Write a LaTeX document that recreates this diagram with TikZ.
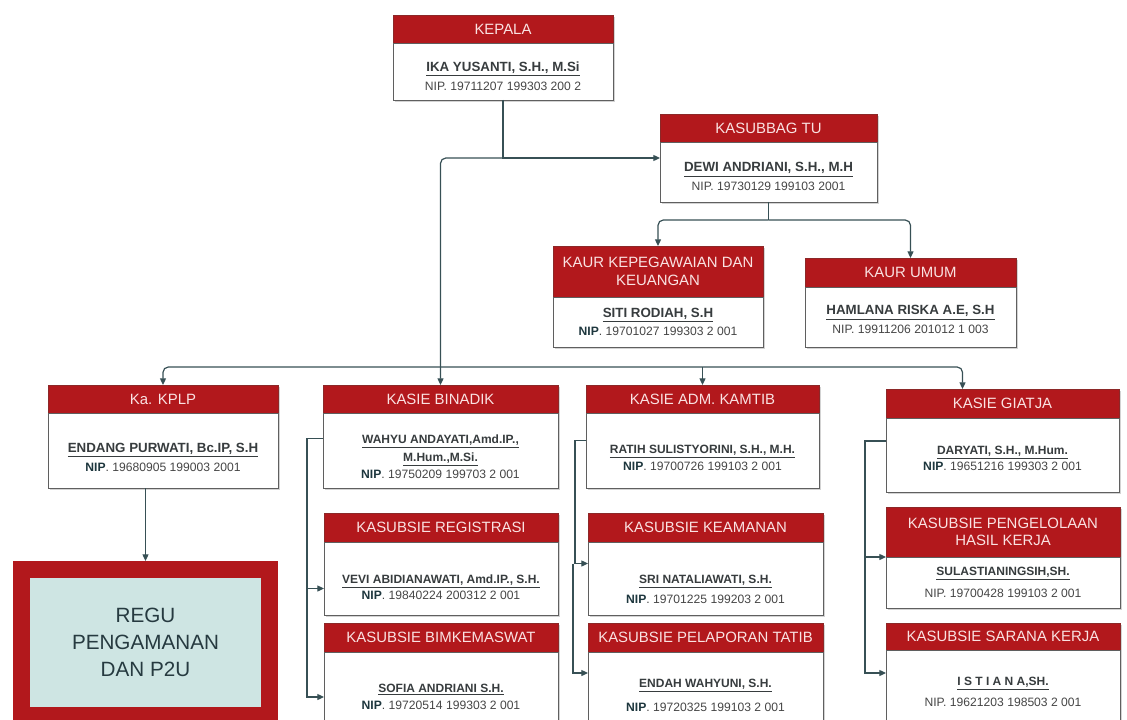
\documentclass[tikz,border=0pt]{standalone}
\usepackage{fontspec}
\setmainfont{Liberation Sans}
\usetikzlibrary{positioning,calc,shadows,arrows.meta}
\definecolor{hdrred}{RGB}{178,24,28}
\definecolor{hdredge}{RGB}{140,40,40}
\definecolor{hdrtxt}{RGB}{250,226,226}
\definecolor{bdyedge}{RGB}{95,95,95}
\definecolor{namecol}{RGB}{55,60,62}
\definecolor{nipcol}{RGB}{70,70,70}
\definecolor{nipbold}{RGB}{30,55,62}
\definecolor{linecol}{RGB}{55,80,85}
\definecolor{regufill}{RGB}{206,229,227}
\definecolor{regutxt}{RGB}{38,58,64}
\newcommand{\namabesar}[1]{{\fontsize{10}{14}\selectfont\color{namecol}\underline{\textbf{#1}}}}
\newcommand{\nama}[1]{{\fontsize{9}{14}\selectfont\color{namecol}\underline{\textbf{#1}}}}
\newcommand{\nip}{{\color{nipbold}\textbf{NIP}}.}
\newcommand{\turun}[1]{\rule{0pt}{\dimexpr 7pt+#1\relax}} % push text down
\tikzset{wd/.style={minimum width=#1*0.75pt},
	ht/.style={minimum height=#1*0.75pt},
	hdr/.style={fill=hdrred, draw=hdredge, line width=0.4pt, text=hdrtxt, font=\fontsize{11.2}{13}\selectfont,
		align=center, inner sep=0pt, outer sep=0pt, anchor=north west,
		drop shadow={shadow xshift=1.5pt, shadow yshift=-1.5pt, opacity=0.35}},
	bdy/.style={fill=white, draw=bdyedge, line width=0.5pt, text=nipcol, font=\fontsize{9.1}{14}\selectfont,
		align=center, inner sep=0pt, outer sep=0pt,
		drop shadow={shadow xshift=1.5pt, shadow yshift=-1.5pt, opacity=0.35}},
	conn/.style={draw=linecol, line width=0.9pt, -{Triangle[length=5pt,width=4.5pt]}}}
\begin{document}
\begin{tikzpicture}[x=0.75pt,y=-0.75pt]
	\useasboundingbox (0,0) rectangle (1127,720);
	% top
	\node[hdr, wd=220, ht=28] (kepalah) at (393,15) {KEPALA};
	\node[bdy, wd=220, ht=57, below=0pt of kepalah] (kepalab) {\turun{7pt}\namabesar{IKA YUSANTI, S.H., M.Si}\\NIP. 19711207 199303 200 2};
	\node[hdr, wd=217, ht=28] (tuh) at (660,114) {KASUBBAG TU};
	\node[bdy, wd=217, ht=60, below=0pt of tuh] (tub) {\turun{7pt}\namabesar{DEWI ANDRIANI, S.H., M.H}\\NIP. 19730129 199103 2001};
	\node[hdr, wd=210, ht=51] (kepegh) at (553,246) {KAUR KEPEGAWAIAN DAN\\KEUANGAN};
	\node[bdy, wd=210, ht=50, below=0pt of kepegh] (kepegb) {\namabesar{SITI RODIAH, S.H}\\\nip{} 19701027 199303 2 001};
	\node[hdr, wd=211, ht=29] (umumh) at (805,258) {KAUR UMUM};
	\node[bdy, wd=211, ht=60, below=0pt of umumh] (umumb) {\turun{4pt}\namabesar{HAMLANA RISKA A.E, S.H}\\NIP. 19911206 201012 1 003};
	% kasie row
	\node[hdr, wd=230, ht=28] (kplph) at (48,385) {Ka. KPLP};
	\node[bdy, wd=230, ht=75, below=0pt of kplph] (kplpb) {\turun{10pt}\namabesar{ENDANG PURWATI, Bc.IP, S.H}\\\nip{} 19680905 199003 2001};
	\node[hdr, wd=235, ht=28] (binadikh) at (323,385) {KASIE BINADIK};
	\node[bdy, wd=235, ht=75, below=0pt of binadikh] (binadikb) {\turun{9pt}\nama{WAHYU ANDAYATI,Amd.IP.,}\\[-1pt]\nama{M.Hum.,M.Si.}\\[-1pt]\nip{} 19750209 199703 2 001};
	\node[hdr, wd=233, ht=28] (admh) at (586,385) {KASIE ADM. KAMTIB};
	\node[bdy, wd=233, ht=75, below=0pt of admh] (admb) {\turun{10pt}\nama{RATIH SULISTYORINI, S.H., M.H.}\\[-1pt]\nip{} 19700726 199103 2 001};
	\node[hdr, wd=233, ht=29] (giatjah) at (886,389) {KASIE GIATJA};
	\node[bdy, wd=233, ht=74, below=0pt of giatjah] (giatjab) {\turun{4pt}\nama{DARYATI, S.H., M.Hum.}\\[-2pt]\nip{} 19651216 199303 2 001};
	% kasubsie
	\node[hdr, wd=234, ht=29] (regish) at (324,513) {KASUBSIE REGISTRASI};
	\node[bdy, wd=234, ht=73, below=0pt of regish] (regisb) {\turun{12pt}\nama{VEVI ABIDIANAWATI, Amd.IP., S.H.}\\[-2pt]\nip{} 19840224 200312 2 001};
	\node[hdr, wd=234, ht=29] (bimkemh) at (324,623) {KASUBSIE BIMKEMASWAT};
	\node[bdy, wd=234, ht=90, below=0pt of bimkemh] (bimkemb) {\nama{SOFIA ANDRIANI S.H.}\\[-1pt]\nip{} 19720514 199303 2 001};
	\node[hdr, wd=235, ht=29] (amanh) at (588,513) {KASUBSIE KEAMANAN};
	\node[bdy, wd=235, ht=73, below=0pt of amanh] (amanb) {\turun{15pt}\nama{SRI NATALIAWATI, S.H.}\\[1pt]\nip{} 19701225 199203 2 001};
	\node[hdr, wd=235, ht=29] (lapor) at (588,623) {KASUBSIE PELAPORAN TATIB};
	\node[bdy, wd=235, ht=86, below=0pt of lapor] (laporb) {\nama{ENDAH WAHYUNI, S.H.}\\[4pt]\nip{} 19720325 199103 2 001};
	\node[hdr, wd=234, ht=50] (kelolah) at (886,507) {KASUBSIE PENGELOLAAN\\HASIL KERJA};
	\node[bdy, wd=234, ht=51, below=0pt of kelolah] (kelolab) {\nama{SULASTIANINGSIH,SH.}\\[3pt]NIP. 19700428 199103 2 001};
	\node[hdr, wd=234, ht=27] (saranah) at (886,623) {KASUBSIE SARANA KERJA};
	\node[bdy, wd=234, ht=84, below=0pt of saranah] (saranab) {\nama{I S T I A N A,SH.}\\[2pt]NIP. 19621203 198503 2 001};
	% regu
	\node[draw=hdrred, line width=12.75pt, fill=regufill, minimum width=186pt, minimum height=109.5pt,
		text=regutxt, font=\fontsize{15.5}{20}\selectfont, align=center] (regu) at (145.5,642.5) {REGU\\PENGAMANAN\\DAN P2U};
	% connectors
	\coordinate (kj) at ($(kepalab.south)+(0,58)$);
	\coordinate (bus) at ($(binadikh.north)+(0,-18)$);
	\coordinate (tj) at ($(tub.south)+(0,18)$);
	\draw[conn] (kepalab.south) -- (kj) -- (kj -| tub.west); %to kasubbag
	\draw[conn, rounded corners=4pt] (kj) -| (binadikh.north);
	\draw[conn, rounded corners=4pt] (bus) -| (kplph.north);
	\draw[conn, rounded corners=4pt] (bus) -| ($(giatjah.north)+(-40,0)$);
	\draw[conn] ($(admh.north)+(0,-18)$) -- (admh.north);
	\draw[draw=linecol, line width=0.9pt] (tub.south) -- (tj);
	\draw[conn, rounded corners=4pt] (tj) -| (kepegh.north);
	\draw[conn, rounded corners=4pt] (tj) -| (umumh.north);
	\draw[conn] (kplpb.south -| regu.north) -- (regu.north);
	% left side lines
	\coordinate (bv) at ($(binadikb.west)+(-16,-12)$);
	\draw[conn] ($(binadikb.west)+(0,-12)$) -- (bv) |- ($(regisb.west)+(0,10)$);
	\draw[conn] (bv) |- (bimkemb.west);
	\coordinate (av) at ($(admb.west)+(-11,-10)$);
	\draw[conn] ($(admb.west)+(0,-10)$) -- (av) |- ($(amanb.west)+(0,-15)$);
	\coordinate (av2) at ($(amanb.west)+(-15,-15)$);
	\draw[conn] (av2) |- ($(laporb.west)+(0,-22)$);
	\coordinate (gv) at ($(giatjab.west)+(-21,-14)$);
	\draw[conn] ($(giatjab.west)+(0,-14)$) -- (gv) |- (kelolab.north west);
	\draw[conn] (gv) |- ($(saranab.west)+(0,-19)$);
\end{tikzpicture}
\end{document}
